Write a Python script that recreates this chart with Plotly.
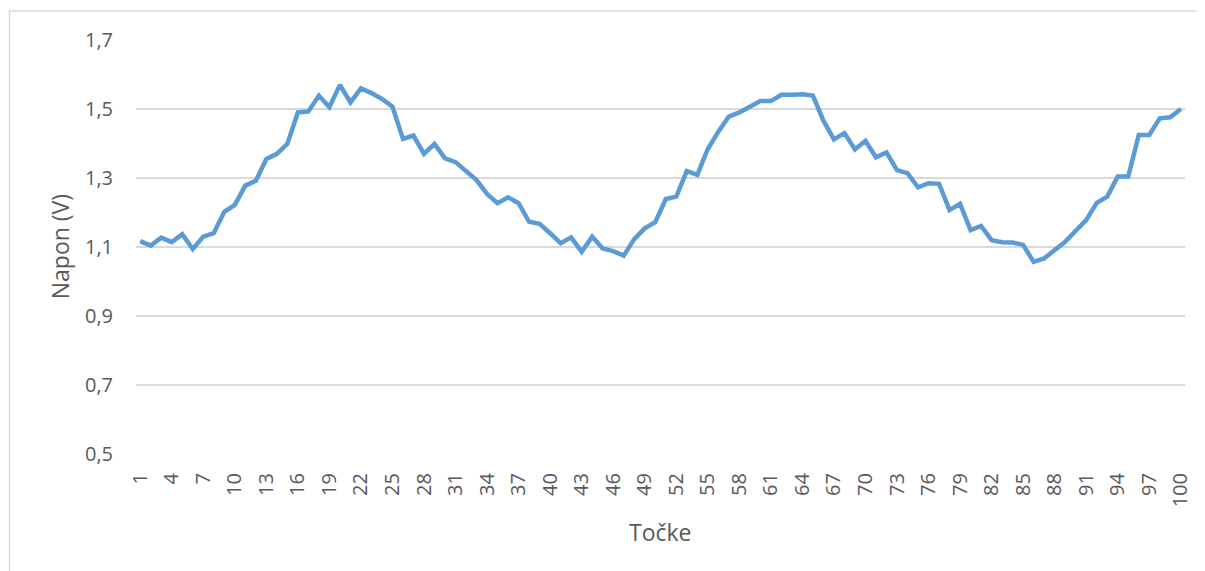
import plotly.graph_objects as go

points = list(range(1, 101))
napon = [
    1.117, 1.104, 1.127, 1.114, 1.137, 1.094, 1.130, 1.140, 1.202, 1.222,
    1.278, 1.292, 1.355, 1.370, 1.399, 1.490, 1.493, 1.539, 1.505, 1.570,
    1.519, 1.560, 1.546, 1.529, 1.507, 1.413, 1.423, 1.370, 1.399, 1.357,
    1.346, 1.318, 1.294, 1.254, 1.227, 1.244, 1.227, 1.173, 1.167, 1.140,
    1.111, 1.128, 1.086, 1.130, 1.096, 1.088, 1.075, 1.123, 1.154, 1.172,
    1.239, 1.246, 1.320, 1.309, 1.384, 1.434, 1.478, 1.490, 1.507, 1.523,
    1.523, 1.541, 1.541, 1.543, 1.539, 1.466, 1.412, 1.430, 1.383, 1.408,
    1.360, 1.374, 1.323, 1.314, 1.273, 1.285, 1.283, 1.207, 1.225, 1.149,
    1.161, 1.120, 1.114, 1.113, 1.106, 1.057, 1.067, 1.091, 1.115, 1.147,
    1.178, 1.228, 1.246, 1.304, 1.304, 1.425, 1.425, 1.473, 1.476, 1.500,
]
x_ticks = list(range(1, 101, 3))
y_ticks = [0.5, 0.7, 0.9, 1.1, 1.3, 1.5, 1.7]
x_title = "Točke"
y_title = "Napon (V)"

# page has 8px body margin, so figure is offset by 8px
OFF = 8
W, H = 1205 - OFF, 571 - OFF
L, T = 136 - OFF, 40 - OFF
R = W - (1189 - OFF)
B = H - (454 - OFF)
pw, ph = W - L - R, H - T - B

def px(xp):
    return (xp - OFF - L) / pw

def py(yp):
    return (H - B - (yp - OFF)) / ph

fig = go.Figure()
fig.add_trace(go.Scatter(
    x=points, y=napon, mode="lines",
    line=dict(color="#5B9BD5", width=4.5, shape="linear"),
    hoverinfo="x+y", showlegend=False,
))

font = "Open Sans, Lato, sans-serif"
fig.update_layout(
    width=W, height=H,
    margin=dict(l=L, r=R, t=T, b=B),
    paper_bgcolor="white", plot_bgcolor="white",
    separators=", ",
    font=dict(family=font, color="#595959", size=20),
    xaxis=dict(
        range=[0.6, 100.4], tickmode="array", tickvals=x_ticks,
        ticktext=[str(v) for v in x_ticks], tickangle=-90,
        showgrid=False, zeroline=False, showline=False,
        ticks="", ticklabelstandoff=14,
        tickfont=dict(size=20, color="#595959", family=font),
    ),
    yaxis=dict(
        range=[0.5, 1.7], tickmode="array", tickvals=y_ticks,
        ticktext=[f"{v:.1f}".replace(".", ",") for v in y_ticks],
        showgrid=True, gridcolor="#D9D9D9", gridwidth=1.5,
        zeroline=False, showline=False, ticks="", ticklabelstandoff=22,
        tickfont=dict(size=20, color="#595959", family=font),
    ),
    annotations=[
        dict(text=x_title, xref="paper", yref="paper", x=0.5, y=py(532),
             xanchor="center", yanchor="middle", showarrow=False,
             font=dict(size=23, color="#595959", family=font)),
        dict(text=y_title, xref="paper", yref="paper", x=px(60), y=0.5,
             xanchor="center", yanchor="middle", showarrow=False, textangle=-90,
             font=dict(size=23, color="#595959", family=font)),
    ],
    shapes=[
        dict(type="rect", xref="paper", yref="paper",
             x0=px(9), x1=px(1215), y0=py(585), y1=py(11),
             line=dict(color="#D9D9D9", width=1.5), fillcolor="rgba(0,0,0,0)",
             layer="below"),
    ],
)

fig.write_html("out.html")
